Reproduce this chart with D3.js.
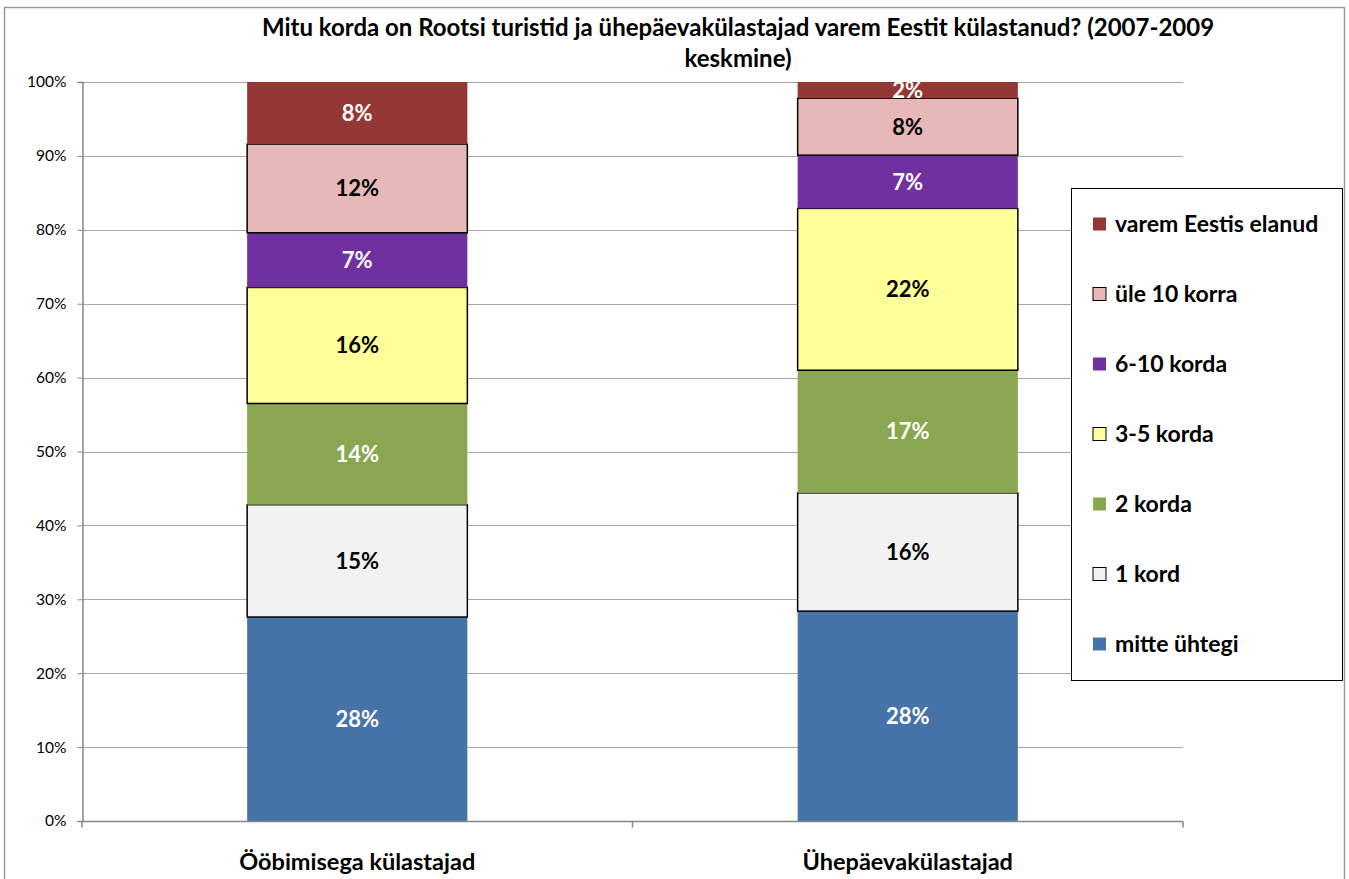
<!DOCTYPE html>
<meta charset="utf-8">
<style>
  body { margin: 0; padding: 0; background: white; }
  svg { display: block; font-family: Lato, "Open Sans", sans-serif; }
  .grid line { stroke: #a6a6a6; stroke-width: 1px; }
  .axis path, .axis line { stroke: #868686; }
</style>
<script src="https://d3js.org/d3.v7.min.js"></script>
<svg id="vis"></svg>
<script>

var width = 1349, height = 879;

// categories on the x axis
const groups = ["Ööbimisega külastajad", "Ühepäevakülastajad"];
// stack order bottom -> top
const series = ["mitte ühtegi", "1 kord", "2 korda", "3-5 korda", "6-10 korda", "üle 10 korra", "varem Eestis elanud"];
const colors = ["#4673a8", "#f2f2f2", "#8ba650", "#ffff99", "#7030a0", "#e6b9b8", "#953735"];
const outlined = [false, true, false, true, false, true, false];
const labelColor = ["#fff", "#000", "#fff", "#000", "#fff", "#000", "#fff"];
// shares in %, one array per group, same order as series
const ooValues = [27.6, 15.2, 13.7, 15.7, 7.4, 12.0, 8.4];
const uheValues = [28.4, 16.0, 16.6, 21.9, 7.2, 7.7, 2.2];
const yTicks = [0, 10, 20, 30, 40, 50, 60, 70, 80, 90, 100];

var svg = d3.select("svg").attr("width", width).attr("height", height);

// outer chart frame
svg.append("rect")
  .attr("x", 4.5).attr("y", 7.5)
  .attr("width", 1340).attr("height", 900)
  .attr("fill", "white").attr("stroke", "#9a9a9a").attr("stroke-width", 1.5);

var margin = {left: 82, right: 166, top: 82, bottom: 58};

var x = d3.scaleBand()
  .domain(groups)
  .range([margin.left, width - margin.right])
  .paddingInner(0.6).paddingOuter(0.3);

var y = d3.scaleLinear()
  .domain([0, 100])
  .range([height - margin.bottom, margin.top]);

// gridlines
svg.append("g").attr("class", "grid")
  .selectAll("line")
  .data(yTicks.filter(d => d > 0))
  .enter().append("line")
    .attr("x1", margin.left).attr("x2", width - margin.right)
    .attr("y1", d => Math.round(y(d)) + 0.5).attr("y2", d => Math.round(y(d)) + 0.5);

// y axis
var yAxis = svg.append("g").attr("class", "axis")
  .attr("transform", "translate(" + (margin.left + 0.5) + ",0)")
  .call(d3.axisLeft(y).tickValues(yTicks).tickSize(5).tickPadding(11).tickFormat(d => d + "%"));
yAxis.select(".domain").attr("stroke-width", 1.5);
yAxis.selectAll("text").attr("font-size", 15.5).attr("fill", "#000").attr("font-family", "Lato");

// data table for stacking
var table = groups.map((g, i) => {
  var vals = i == 0 ? ooValues : uheValues;
  var row = {group: g};
  series.forEach((s, j) => row[s] = vals[j]);
  return row;
});
var stacked = d3.stack().keys(series)(table);

var layers = svg.append("g").selectAll("g")
  .data(stacked)
  .enter().append("g");

layers.selectAll("rect")
  .data(d => d.map(p => ({p: p, key: d.key, idx: d.index})))
  .enter().append("rect")
    .attr("x", d => x(d.p.data.group))
    .attr("width", x.bandwidth())
    .attr("y", d => y(d.p[1]))
    .attr("height", d => y(d.p[0]) - y(d.p[1]))
    .attr("fill", d => colors[d.idx])
    .attr("stroke", d => outlined[d.idx] ? "#000" : "none")
    .attr("stroke-width", 1.5);

layers.selectAll("text")
  .data(d => d.map(p => ({p: p, key: d.key, idx: d.index})))
  .enter().append("text")
    .attr("x", d => x(d.p.data.group) + x.bandwidth() / 2)
    .attr("y", d => (y(d.p[0]) + y(d.p[1])) / 2)
    .attr("dy", "0.36em")
    .attr("text-anchor", "middle")
    .attr("font-size", 22).attr("font-weight", "bold")
    .attr("fill", d => labelColor[d.idx])
    .text(d => Math.round(d.p[1] - d.p[0]) + "%");

// x axis
var xAxis = svg.append("g").attr("class", "axis")
  .attr("transform", "translate(0," + (y(0) + 0.5) + ")");
xAxis.append("line")
  .attr("x1", margin.left).attr("x2", width - margin.right)
  .attr("stroke", "#868686").attr("stroke-width", 1.5);
var edges = [margin.left, (x(groups[0]) + x.bandwidth() + x(groups[1])) / 2, width - margin.right];
xAxis.selectAll(".tk")
  .data(edges)
  .enter().append("line")
    .attr("x1", d => d).attr("x2", d => d)
    .attr("y1", 0).attr("y2", 6)
    .attr("stroke", "#868686").attr("stroke-width", 1.5);
xAxis.selectAll("text")
  .data(groups)
  .enter().append("text")
    .attr("x", d => x(d) + x.bandwidth() / 2)
    .attr("y", 48)
    .attr("text-anchor", "middle")
    .attr("font-size", 23.5).attr("font-weight", "bold")
    .text(d => d);

// title
var title = svg.append("text")
  .attr("text-anchor", "middle")
  .attr("font-size", 24).attr("font-weight", "bold");
title.append("tspan").attr("x", 738).attr("y", 36)
  .text("Mitu korda on Rootsi turistid ja ühepäevakülastajad varem Eestit külastanud? (2007-2009");
title.append("tspan").attr("x", 738).attr("y", 67).text("keskmine)");

// legend
var legend = svg.append("g").attr("transform", "translate(1071,188)");
legend.append("rect")
  .attr("x", 0.5).attr("y", 0.5).attr("width", 271).attr("height", 492)
  .attr("fill", "white").attr("stroke", "#000").attr("stroke-width", 1);

var order = series.map((s, i) => i).reverse();
var items = legend.selectAll(".item")
  .data(order)
  .enter().append("g")
    .attr("transform", (d, k) => "translate(22," + (36 + k * 70) + ")");
items.append("rect")
  .attr("x", 0).attr("y", -6.5).attr("width", 13).attr("height", 13)
  .attr("fill", d => colors[d])
  .attr("stroke", d => outlined[d] ? "#000" : "none")
  .attr("stroke-width", 1);
items.append("text")
  .attr("x", 22).attr("dy", "0.36em")
  .attr("font-size", 23).attr("font-weight", "bold")
  .text(d => series[d]);

</script>
